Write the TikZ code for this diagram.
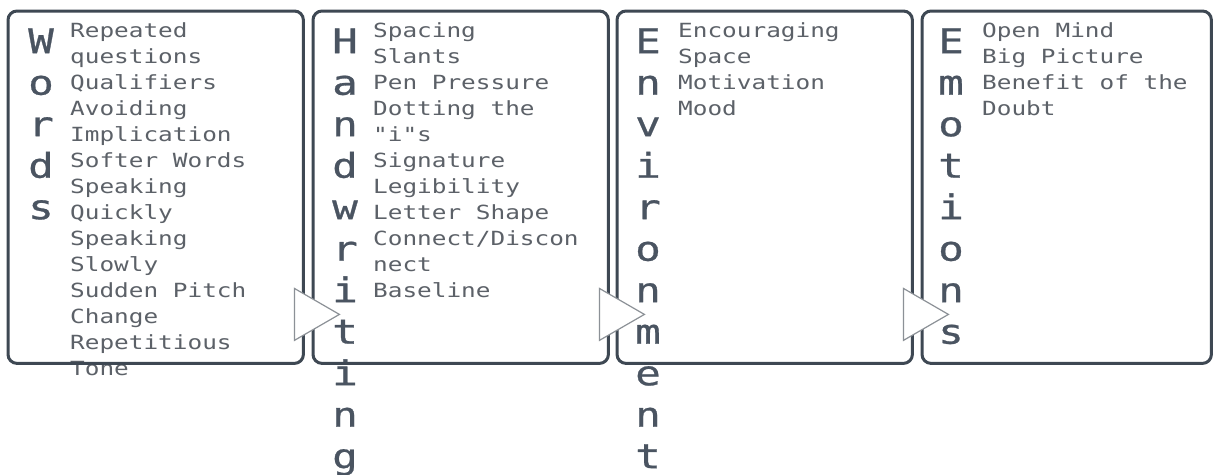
\documentclass[tikz,border=0pt]{standalone}
\usepackage{fontspec}
\usetikzlibrary{calc}
\newfontfamily\monofont[FakeStretch=1.25]{DejaVu Sans Mono}
\newfontfamily\bigmonofont[FakeStretch=1.25,FakeBold=0.8]{DejaVu Sans Mono}
\definecolor{bordercol}{HTML}{3E4853}
\definecolor{listcol}{HTML}{5C6168}
\definecolor{bigcol}{HTML}{4A5461}
\definecolor{tricol}{HTML}{8C9197}
\tikzset{
  panel/.style={fill=white, draw=none, inner sep=0pt, minimum width=295pt, minimum height=352pt, anchor=north west},
  panelline/.style={draw=bordercol, line width=3pt, rounded corners=9pt},
  items/.style={anchor=north west, inner sep=0pt, align=left, text=listcol, font=\monofont\fontsize{19.5}{26}\selectfont},
  letters/.style={anchor=north, inner sep=0pt, align=center, text=bigcol, font=\bigmonofont\fontsize{34}{41.5}\selectfont},
  tri/.style={draw=tricol, fill=white, line width=1.2pt, line join=miter},
}
\newcommand{\fl}{\rule{0pt}{20pt}}
\newcommand{\fb}{\rule{0pt}{30pt}}
\begin{document}
\begin{tikzpicture}[x=1pt,y=-1pt]
\useasboundingbox (0,0) rectangle (1214,474);
% panels (fill)
\node[panel] (p1) at (8,11) {};
\node[panel] (p2) at (313,11) {};
\node[panel] (p3) at (617,11) {};
\node[panel, minimum width=289pt] (p4) at (922,11) {};
% big vertical words
\node[letters] (l1) at (41,23) {\fb W\\o\\r\\d\\s};
\node[letters] (l2) at (345,23) {\fb H\\a\\n\\d\\w\\r\\i\\t\\i\\n\\g};
\node[letters] (l3) at (648,23) {\fb E\\n\\v\\i\\r\\o\\n\\m\\e\\n\\t};
\node[letters] (l4) at (951,23) {\fb E\\m\\o\\t\\i\\o\\n\\s};
% item lists
\node[items] (i1) at (70,17) {\fl Repeated\\questions\\Qualifiers\\Avoiding\\Implication\\Softer Words\\Speaking\\Quickly\\Speaking\\Slowly\\Sudden Pitch\\Change\\Repetitious\\Tone};
\node[items] (i2) at (373,17) {\fl Spacing\\Slants\\Pen Pressure\\Dotting the\\"i"s\\Signature\\Legibility\\Letter Shape\\Connect/Discon\\nect\\Baseline};
\node[items] (i3) at (678,17) {\fl Encouraging\\Space\\Motivation\\Mood};
\node[items] (i4) at (982,17) {\fl Open Mind\\Big Picture\\Benefit of the\\Doubt};
% panel outlines
\foreach \p in {p1,p2,p3,p4}{
  \draw[panelline] (\p.north west) rectangle (\p.south east);
}
% connectors (hollow triangles)
\foreach \p in {p1,p2,p3}{
  \draw[tri] ($(\p.south east)+(-9,-75)$) -- ++(0,52) -- ++(45,-26) -- cycle;
}
\end{tikzpicture}
\end{document}
